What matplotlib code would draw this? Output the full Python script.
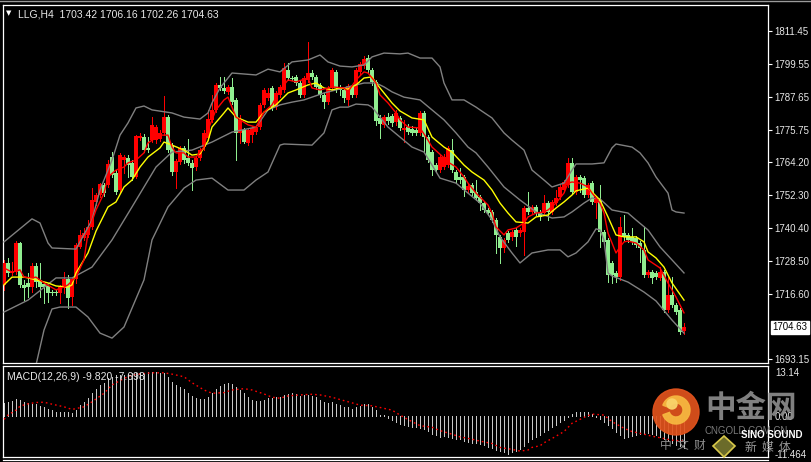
import matplotlib
matplotlib.use('Agg')
import matplotlib.pyplot as plt
from matplotlib.patches import Circle, Wedge, Polygon
import matplotlib.transforms as mtransforms

# ---------------- data ----------------
symbol = "LLG,H4"
last_ohlc = [1703.42, 1706.16, 1702.26, 1704.63]

opens = [1719.9, 1727.8, 1724.2, 1724.5, 1735.0, 1719.9, 1720.6, 1719.1, 1726.7, 1721.7,
         1720.2, 1719.5, 1717.1, 1717.0, 1717.0, 1718.8, 1722.0, 1715.5, 1722.0, 1733.6,
         1736.8, 1737.9, 1740.8, 1749.8, 1752.3, 1755.9, 1755.9, 1766.0, 1760.2, 1754.1,
         1764.9, 1765.7, 1763.9, 1758.8, 1772.9, 1773.2, 1769.3, 1772.1, 1772.1, 1772.5,
         1774.7, 1780.4, 1770.3, 1760.6, 1764.2, 1769.3, 1765.7, 1763.9, 1762.4, 1765.7,
         1769.6, 1772.9, 1779.4, 1783.0, 1792.0, 1790.9, 1789.5, 1791.3, 1786.6, 1774.7,
         1775.8, 1771.1, 1773.9, 1775.0, 1776.8, 1784.8, 1787.3, 1790.9, 1784.0, 1788.4,
         1790.2, 1797.4, 1794.5, 1794.9, 1792.7, 1788.4, 1793.8, 1796.3, 1794.9, 1792.0,
         1788.4, 1785.8, 1790.9, 1796.7, 1791.3, 1790.2, 1786.6, 1791.3, 1788.4, 1796.7,
         1798.8, 1801.7, 1797.4, 1793.1, 1780.1, 1777.6, 1780.4, 1780.8, 1778.6, 1780.1,
         1775.8, 1776.8, 1776.1, 1775.8, 1774.7, 1781.9, 1773.2, 1767.8, 1763.1, 1761.3,
         1762.4, 1763.1, 1768.5, 1760.6, 1758.8, 1758.8, 1754.1, 1755.9, 1753.4, 1751.6,
         1749.4, 1746.9, 1746.2, 1743.3, 1737.2, 1733.2, 1738.6, 1737.2, 1739.7, 1738.6,
         1739.0, 1747.6, 1746.2, 1748.0, 1746.2, 1745.8, 1749.4, 1746.2, 1749.4, 1751.6,
         1754.1, 1755.9, 1763.9, 1753.4, 1758.8, 1758.4, 1752.3, 1756.6, 1749.4, 1750.5,
         1739.0, 1736.1, 1727.8, 1724.2, 1722.7, 1738.6, 1737.9, 1737.2, 1736.8, 1735.0,
         1732.5, 1723.5, 1724.5, 1724.2, 1722.4, 1724.5, 1710.8, 1716.3, 1712.6, 1710.8,
         1703.42]

highs = [1728.9, 1729.6, 1728.2, 1735.7, 1735.4, 1721.7, 1724.2, 1727.8, 1727.8, 1727.8,
         1720.6, 1719.9, 1718.1, 1718.1, 1719.9, 1724.5, 1723.5, 1722.4, 1735.0, 1739.7,
         1740.4, 1743.3, 1754.8, 1753.0, 1756.6, 1756.6, 1764.9, 1767.8, 1761.3, 1767.5,
         1766.7, 1766.7, 1764.9, 1773.9, 1774.7, 1774.3, 1773.2, 1780.4, 1777.6, 1775.8,
         1788.0, 1781.2, 1771.1, 1765.3, 1770.0, 1770.0, 1772.5, 1764.9, 1766.4, 1769.3,
         1775.8, 1783.0, 1788.4, 1792.7, 1794.9, 1794.9, 1792.0, 1794.5, 1787.3, 1781.2,
         1776.5, 1776.5, 1777.2, 1777.6, 1785.5, 1790.9, 1790.9, 1791.6, 1789.8, 1792.0,
         1799.9, 1799.9, 1795.2, 1795.6, 1793.4, 1795.2, 1807.5, 1797.4, 1795.6, 1792.7,
         1789.1, 1791.6, 1798.1, 1797.4, 1792.0, 1790.9, 1792.3, 1792.0, 1798.1, 1800.3,
         1802.4, 1802.8, 1798.1, 1793.8, 1781.2, 1781.2, 1781.9, 1781.5, 1783.0, 1780.8,
         1779.4, 1777.9, 1777.2, 1776.5, 1782.6, 1782.6, 1773.9, 1768.5, 1763.9, 1766.7,
         1767.1, 1770.0, 1772.5, 1761.3, 1762.1, 1759.5, 1756.3, 1756.6, 1757.7, 1752.3,
         1750.1, 1747.6, 1746.9, 1744.0, 1737.9, 1736.8, 1739.3, 1739.7, 1740.4, 1740.4,
         1748.3, 1753.4, 1748.7, 1748.7, 1746.9, 1752.3, 1750.1, 1750.5, 1754.1, 1755.9,
         1757.7, 1765.7, 1765.7, 1759.5, 1759.5, 1759.2, 1756.6, 1757.4, 1752.0, 1755.9,
         1739.7, 1736.8, 1728.5, 1724.9, 1744.4, 1745.1, 1738.6, 1740.4, 1737.5, 1735.7,
         1740.8, 1725.3, 1725.3, 1724.9, 1726.3, 1725.3, 1722.7, 1722.7, 1713.4, 1711.6,
         1706.16]

lows = [1718.1, 1723.1, 1723.5, 1723.8, 1719.1, 1714.4, 1715.5, 1717.3, 1719.1, 1715.5,
        1713.4, 1713.7, 1716.3, 1716.3, 1713.4, 1717.0, 1711.6, 1712.6, 1720.6, 1733.2,
        1736.1, 1737.2, 1740.1, 1748.7, 1751.6, 1752.0, 1755.2, 1758.8, 1752.7, 1753.4,
        1760.2, 1758.8, 1757.7, 1758.4, 1772.1, 1767.8, 1767.8, 1771.4, 1771.1, 1771.8,
        1773.9, 1767.8, 1759.5, 1754.8, 1763.5, 1763.9, 1763.1, 1754.1, 1761.3, 1764.9,
        1768.5, 1772.1, 1778.6, 1782.2, 1790.2, 1789.1, 1788.7, 1785.1, 1764.9, 1771.1,
        1771.1, 1770.3, 1771.4, 1774.3, 1776.1, 1784.0, 1786.6, 1783.0, 1783.3, 1787.6,
        1789.5, 1793.8, 1793.8, 1792.0, 1787.6, 1787.6, 1793.1, 1794.1, 1790.5, 1787.6,
        1783.7, 1785.1, 1790.2, 1789.5, 1788.4, 1785.8, 1784.8, 1787.6, 1787.6, 1795.9,
        1798.1, 1796.7, 1792.0, 1777.6, 1772.9, 1776.8, 1777.9, 1777.2, 1777.6, 1775.8,
        1771.4, 1774.3, 1773.9, 1773.9, 1773.9, 1767.8, 1764.2, 1759.5, 1760.6, 1760.6,
        1761.7, 1762.4, 1760.6, 1757.0, 1756.6, 1752.0, 1753.4, 1752.3, 1750.5, 1746.9,
        1746.2, 1745.1, 1742.6, 1731.4, 1727.8, 1731.8, 1735.4, 1736.1, 1733.9, 1737.5,
        1730.7, 1745.5, 1745.5, 1745.1, 1743.3, 1745.1, 1743.3, 1745.5, 1748.7, 1750.9,
        1753.4, 1755.2, 1752.7, 1752.7, 1753.4, 1751.6, 1751.6, 1749.1, 1744.0, 1733.6,
        1734.3, 1720.9, 1720.6, 1720.9, 1721.7, 1736.1, 1735.4, 1734.6, 1733.6, 1728.2,
        1722.7, 1722.7, 1720.6, 1722.0, 1721.7, 1710.1, 1710.1, 1711.9, 1709.4, 1702.2,
        1702.26]

closes = [1727.8, 1724.2, 1724.9, 1735.0, 1719.9, 1718.8, 1719.1, 1726.7, 1720.9, 1719.1,
          1719.1, 1717.0, 1717.0, 1716.8, 1719.1, 1722.0, 1715.2, 1722.0, 1734.3, 1737.9,
          1738.6, 1740.8, 1750.5, 1752.3, 1756.3, 1753.0, 1763.5, 1759.5, 1753.4, 1766.7,
          1766.0, 1763.1, 1758.8, 1773.6, 1773.6, 1768.5, 1768.5, 1777.6, 1776.8, 1774.7,
          1780.4, 1768.5, 1760.6, 1764.6, 1769.3, 1764.9, 1763.9, 1762.1, 1765.7, 1768.5,
          1774.7, 1779.7, 1783.0, 1792.0, 1790.9, 1789.8, 1791.3, 1785.8, 1774.7, 1779.4,
          1771.4, 1775.8, 1776.5, 1776.8, 1784.8, 1790.2, 1789.1, 1784.0, 1789.1, 1791.3,
          1798.1, 1794.5, 1794.3, 1792.7, 1788.4, 1794.5, 1796.3, 1794.9, 1791.3, 1788.4,
          1785.8, 1790.9, 1797.4, 1790.9, 1790.2, 1787.3, 1791.6, 1788.4, 1797.4, 1799.5,
          1801.4, 1797.4, 1793.1, 1779.0, 1777.9, 1780.4, 1779.0, 1778.3, 1781.9, 1776.5,
          1776.5, 1775.0, 1774.7, 1774.7, 1781.9, 1773.2, 1764.9, 1761.3, 1761.3, 1766.0,
          1766.0, 1769.3, 1761.3, 1757.7, 1757.7, 1754.1, 1755.6, 1753.0, 1751.2, 1749.4,
          1746.9, 1745.8, 1743.3, 1737.9, 1733.2, 1736.1, 1736.1, 1739.0, 1737.2, 1739.7,
          1747.6, 1746.2, 1748.0, 1745.8, 1744.4, 1749.4, 1746.2, 1749.8, 1751.2, 1755.2,
          1757.0, 1763.9, 1753.4, 1758.8, 1757.7, 1752.3, 1755.9, 1749.8, 1751.2, 1739.0,
          1735.4, 1723.5, 1723.5, 1722.7, 1740.8, 1737.2, 1736.1, 1735.4, 1734.3, 1733.2,
          1723.5, 1724.5, 1722.4, 1722.7, 1724.5, 1710.8, 1716.3, 1712.6, 1710.1, 1702.9,
          1704.63]

# fast moving average (red): bar index -> value
ma_fast_idx = [0, 2, 4, 5, 7, 8, 10, 13, 15, 16, 18, 20, 21, 23, 25, 26, 28, 30, 31, 33,
               35, 36, 39, 41, 42, 43, 45, 46, 48, 50, 51, 53, 55, 56, 58, 61, 63, 65, 67, 69,
               71, 73, 76, 77, 79, 81, 82, 85, 86, 88, 90, 91, 93, 94, 96, 98, 99, 101, 104, 106,
               107, 110, 111, 113, 115, 116, 118, 121, 122, 123, 125, 126, 128, 130, 131, 133, 135, 136, 138, 140,
               141, 142, 144, 146, 147, 149, 150, 151, 153, 154, 155, 156, 158, 160, 161, 164, 166, 168, 170]
ma_fast = [1726.0, 1724.5, 1725.3, 1722.7, 1722.4, 1722.7, 1720.6, 1718.1, 1719.1, 1719.9,
           1722.7, 1728.9, 1738.6, 1746.9, 1753.0, 1758.8, 1761.3, 1762.4, 1763.9, 1764.9,
           1767.5, 1771.1, 1773.9, 1773.9, 1769.6, 1767.5, 1767.5, 1766.0, 1766.0, 1769.6,
           1775.8, 1783.0, 1786.6, 1787.6, 1780.4, 1777.6, 1776.8, 1782.2, 1784.8, 1790.2,
           1793.8, 1793.1, 1794.5, 1790.9, 1790.2, 1790.9, 1791.3, 1790.9, 1789.5, 1793.8,
           1796.7, 1796.3, 1792.7, 1788.4, 1785.5, 1781.9, 1779.4, 1776.8, 1776.5, 1772.1,
           1769.6, 1765.7, 1764.2, 1762.4, 1758.8, 1756.6, 1753.0, 1748.7, 1745.8, 1740.8,
           1737.9, 1739.7, 1740.4, 1742.2, 1744.4, 1745.8, 1746.2, 1746.9, 1749.4, 1753.0,
           1756.6, 1757.0, 1756.6, 1755.2, 1753.0, 1749.4, 1745.8, 1738.6, 1731.4, 1733.6,
           1735.4, 1735.7, 1735.0, 1732.5, 1728.9, 1726.0, 1720.6, 1715.5, 1709.8]

# slow moving average (yellow)
ma_slow_idx = [0, 2, 5, 6, 8, 11, 13, 16, 17, 18, 21, 23, 26, 28, 30, 32, 34, 36, 39, 40,
               42, 45, 47, 49, 51, 52, 55, 56, 58, 61, 63, 65, 68, 71, 73, 76, 78, 80, 82, 84,
               86, 88, 90, 92, 93, 95, 97, 99, 102, 105, 107, 110, 112, 115, 117, 120, 122, 124, 126, 128,
               131, 133, 136, 138, 140, 142, 143, 146, 147, 149, 151, 153, 155, 158, 160, 161, 163, 165, 167, 170]
ma_slow = [1719.9, 1722.7, 1722.7, 1722.4, 1721.7, 1720.6, 1719.5, 1719.1, 1719.9, 1724.2,
           1731.4, 1739.3, 1748.0, 1749.8, 1755.2, 1757.7, 1762.4, 1766.0, 1769.3, 1771.4,
           1770.3, 1768.5, 1766.7, 1767.1, 1771.8, 1776.8, 1781.9, 1783.7, 1780.4, 1778.6,
           1778.6, 1782.2, 1784.8, 1789.1, 1790.2, 1792.0, 1792.7, 1790.9, 1790.2, 1790.9,
           1790.5, 1792.0, 1794.5, 1794.9, 1792.7, 1789.1, 1785.5, 1782.6, 1780.1, 1779.4,
           1773.2, 1769.6, 1767.8, 1763.1, 1760.6, 1757.7, 1754.1, 1749.4, 1745.8, 1742.6,
           1742.2, 1744.4, 1745.1, 1747.6, 1749.8, 1752.3, 1753.8, 1754.8, 1753.4, 1750.5,
           1744.4, 1737.9, 1737.2, 1737.2, 1735.4, 1731.8, 1729.6, 1726.3, 1720.6, 1714.4]

# Bollinger bands (gray)
bb_up_idx = [0, 7, 9, 11, 12, 18, 22, 24, 27, 29, 31, 33, 35, 37, 42, 45, 49, 51, 52, 54,
             57, 63, 66, 69, 72, 76, 79, 81, 84, 87, 90, 92, 95, 99, 101, 104, 107, 109, 110, 112,
             115, 118, 119, 122, 125, 127, 130, 132, 135, 137, 140, 142, 143, 147, 150, 152, 153, 157, 159, 161,
             163, 166, 167, 168, 170]
bb_up = [1735.4, 1743.7, 1742.2, 1735.0, 1733.2, 1732.8, 1743.3, 1754.1, 1764.9, 1773.9,
         1778.3, 1783.7, 1784.4, 1783.0, 1781.9, 1780.4, 1779.7, 1781.9, 1785.5, 1790.9,
         1796.3, 1795.6, 1797.7, 1796.7, 1800.3, 1801.0, 1802.8, 1800.3, 1798.8, 1798.5,
         1799.2, 1802.1, 1803.5, 1803.2, 1803.5, 1801.7, 1801.7, 1798.5, 1792.7, 1786.6,
         1786.6, 1784.0, 1783.0, 1780.1, 1774.7, 1772.1, 1768.5, 1761.3, 1757.7, 1755.2,
         1756.6, 1761.3, 1763.5, 1763.5, 1763.9, 1769.3, 1770.7, 1769.6, 1767.5, 1763.9,
         1758.8, 1753.0, 1746.9, 1746.2, 1745.8]

bb_mid_idx = [0, 6, 13, 17, 22, 27, 32, 38, 42, 47, 52, 57, 63, 66, 69, 72, 75, 77, 80, 83,
              86, 90, 93, 95, 97, 100, 104, 107, 110, 113, 116, 118, 121, 125, 129, 133, 137, 140, 142, 145,
              147, 149, 152, 156, 158, 161, 164, 167, 170]
bb_mid = [1710.1, 1714.4, 1722.4, 1722.4, 1726.3, 1736.1, 1748.0, 1762.4, 1767.8, 1768.5,
          1771.4, 1775.0, 1776.8, 1783.0, 1784.8, 1785.8, 1786.6, 1787.6, 1789.1, 1790.2,
          1791.3, 1792.7, 1792.7, 1791.3, 1789.5, 1787.6, 1786.6, 1783.0, 1779.4, 1774.7,
          1769.6, 1767.5, 1762.4, 1755.2, 1750.5, 1746.2, 1744.0, 1744.4, 1746.2, 1749.4,
          1751.2, 1750.9, 1746.9, 1745.8, 1743.3, 1739.7, 1733.6, 1728.9, 1724.2]

bb_low_idx = [0, 7, 8, 10, 12, 14, 18, 21, 24, 27, 30, 35, 37, 41, 45, 48, 52, 56, 60, 63,
              66, 69, 70, 77, 80, 82, 84, 86, 88, 91, 92, 94, 96, 99, 102, 105, 107, 109, 113, 116,
              119, 122, 124, 127, 129, 132, 136, 139, 141, 143, 146, 148, 149, 150, 151, 152, 156, 160, 163, 167,
              170]
bb_low = [1684.9, 1686.3, 1691.0, 1703.6, 1711.2, 1711.9, 1711.9, 1708.3, 1702.5, 1700.7,
          1704.7, 1721.7, 1736.1, 1748.0, 1754.8, 1757.7, 1758.4, 1754.1, 1754.1, 1757.7,
          1760.6, 1770.3, 1770.7, 1770.3, 1774.7, 1783.0, 1784.0, 1784.0, 1785.1, 1784.8,
          1784.0, 1780.4, 1776.8, 1773.2, 1769.6, 1767.8, 1763.1, 1758.4, 1756.6, 1753.0,
          1749.4, 1743.3, 1737.2, 1731.4, 1727.8, 1731.4, 1732.5, 1732.5, 1730.0, 1731.4,
          1735.4, 1740.1, 1739.7, 1736.1, 1724.2, 1723.1, 1720.9, 1717.3, 1714.1, 1707.2,
          1702.5]

# MACD(12,26,9) histogram, one value per bar
macd_main = [3.9, 4.1, 4.5, 5.1, 4.7, 4.2, 3.9, 3.7, 3.4, 2.9,
             2.6, 2.0, 1.7, 1.2, 1.1, 1.1, 1.0, 0.9, 1.7, 3.2,
             4.2, 5.3, 7.0, 8.0, 9.3, 10.0, 11.3, 11.8, 12.3, 12.3,
             12.3, 12.6, 12.8, 12.8, 13.0, 13.0, 13.1, 13.1, 13.14, 13.0,
             12.8, 11.8, 10.3, 9.3, 8.6, 8.0, 7.0, 6.0, 5.3, 5.1,
             5.1, 5.8, 7.0, 8.0, 9.0, 9.5, 9.8, 9.6, 8.8, 7.8,
             6.8, 5.8, 4.7, 4.4, 4.4, 4.9, 5.3, 5.5, 5.6, 5.8,
             6.3, 6.6, 6.8, 6.6, 6.1, 6.3, 6.3, 6.0, 5.6, 4.9,
             4.2, 3.9, 4.1, 3.5, 3.2, 2.7, 2.5, 1.9, 2.5, 3.0,
             3.4, 3.5, 2.7, 1.7, 0.2, 0.1, -0.8, -1.3, -1.8, -2.5,
             -2.8, -3.0, -3.3, -3.5, -3.8, -4.1, -4.5, -5.4, -5.9, -6.4,
             -6.2, -6.4, -6.6, -6.9, -7.2, -7.6, -7.9, -8.2, -8.4, -8.6,
             -9.0, -9.4, -9.9, -10.4, -10.7, -11.1, -11.464, -10.9, -10.6, -10.2,
             -9.2, -7.9, -7.2, -6.4, -5.9, -5.0, -4.3, -3.5, -2.8, -2.0,
             -1.2, -0.4, 0.6, 1.0, 1.2, 1.2, 1.0, 0.5, -0.3, -1.1,
             -1.8, -2.8, -3.8, -4.8, -5.9, -6.6, -6.4, -6.2, -5.9, -5.6,
             -5.4, -5.2, -5.4, -5.9, -6.4, -7.2, -7.8, -8.3, -8.8, -9.3,
             -9.82]

# MACD signal line (red dotted)
macd_sig_idx = [0, 1, 3, 4, 6, 8, 10, 12, 15, 17, 20, 22, 25, 27, 30, 32, 35, 37, 40, 42,
                45, 47, 50, 52, 55, 57, 60, 62, 65, 67, 69, 71, 74, 77, 79, 82, 84, 87, 89, 92,
                94, 97, 99, 102, 104, 107, 109, 112, 114, 117, 119, 122, 124, 127, 129, 131, 132, 134, 135, 137,
                140, 142, 145, 147, 150, 152, 155, 157, 160, 162, 165, 167, 170]
macd_sig = [-1.1, 0.2, 1.7, 2.9, 3.6, 4.0, 4.1, 3.5, 2.7, 1.9,
            2.7, 4.2, 6.8, 9.3, 11.3, 12.3, 12.8, 13.0, 13.0, 12.6,
            11.8, 10.0, 7.8, 6.8, 7.0, 7.8, 8.2, 7.8, 6.6, 5.6,
            5.3, 6.0, 6.3, 6.5, 6.3, 5.6, 4.9, 3.9, 3.2, 3.0,
            2.5, 1.7, 0.2, -1.8, -3.0, -3.5, -4.5, -5.6, -6.4, -7.1,
            -7.7, -8.4, -9.6, -10.2, -10.7, -10.4, -9.6, -9.1, -8.2, -6.9,
            -4.8, -2.3, -0.5, 0.5, 0.2, -1.8, -3.8, -4.8, -5.6, -6.2,
            -6.9, -7.4, -7.698]

price_ticks = [1811.45, 1799.55, 1787.65, 1775.75, 1764.20, 1752.30, 1740.40, 1728.50, 1716.60, 1693.15]
macd_ticks = [13.14, 0.00, -11.464]
macd_tick_labels = ["13.14", "0.00", "-11.464"]

# ---------------- figure ----------------
W, H = 811, 462
fig = plt.figure(figsize=(W / 100, H / 100), dpi=100, facecolor='black')


def frac(x0, y0, x1, y1):
    return [x0 / W, 1 - y1 / H, (x1 - x0) / W, (y1 - y0) / H]


UP = '#FF0000'
DOWN = '#90EE90'
TXT = '#E8E8E8'
FONT = ['Liberation Sans', 'DejaVu Sans']
CJK = ['Noto Sans CJK SC', 'DejaVu Sans']

ax = fig.add_axes(frac(3, 5, 768, 363))
ax.set_facecolor('black')
ax.set_xlim(-0.25, 191)
ax.set_ylim(1691.72, 1820.83)

n = len(closes)
idx = list(range(n))
cols = [UP if c >= o else DOWN for o, c in zip(opens, closes)]
bottoms = [min(o, c) for o, c in zip(opens, closes)]
heights = [max(abs(c - o), 0.38) for o, c in zip(opens, closes)]

ax.vlines(idx, lows, highs, colors=cols, linewidth=0.72, zorder=2, antialiased=False)
ax.bar(idx, heights, bottom=bottoms, width=0.78, color=cols, linewidth=0, zorder=3,
       antialiased=False)

GRAY = '#808080'
ax.plot(bb_up_idx, bb_up, color=GRAY, lw=1.0, zorder=4)
ax.plot(bb_mid_idx, bb_mid, color=GRAY, lw=1.0, zorder=4)
ax.plot(bb_low_idx, bb_low, color=GRAY, lw=1.0, zorder=4)
ax.plot(ma_slow_idx, ma_slow, color='#FFFF00', lw=1.0, zorder=5)
ax.plot(ma_fast_idx, ma_fast, color='#FF0000', lw=1.0, zorder=5)

for s in ax.spines.values():
    s.set_color('white')
    s.set_linewidth(0.9)
ax.set_xticks([])
ax.yaxis.tick_right()
ax.set_yticks(price_ticks)
ax.set_yticklabels([f"{t:.2f}" for t in price_ticks])
ax.tick_params(axis='y', colors='white', length=3, width=0.8, pad=1.5, labelsize=7)
for lab in ax.get_yticklabels():
    lab.set_color(TXT)
    lab.set_family(FONT)

# current price box
ax.annotate(f"{last_ohlc[3]:.2f}", xy=(1.0, last_ohlc[3]),
            xycoords=mtransforms.blended_transform_factory(ax.transAxes, ax.transData),
            xytext=(3, 0), textcoords='offset points', va='center', ha='left',
            fontsize=7, family=FONT, color='black',
            bbox=dict(boxstyle='square,pad=0.15', fc='white', ec='white'), annotation_clip=False)

ax.text(0.004, 0.985, "\u25BC", transform=ax.transAxes, color='white', fontsize=5,
        va='top', ha='left', family=['DejaVu Sans'])
ax.text(0.02, 0.988, f"{symbol}  " + " ".join(f"{v:.2f}" for v in last_ohlc),
        transform=ax.transAxes, color=TXT, fontsize=7.5, va='top', ha='left', family=FONT)

# ---------------- MACD panel ----------------
ax2 = fig.add_axes(frac(3, 366, 768, 457))
ax2.set_facecolor('black')
ax2.set_xlim(-0.25, 191)
ax2.set_ylim(-12.5, 15.06)
ax2.vlines(idx, 0, macd_main, colors='#C8C8C8', linewidth=0.72, zorder=2, antialiased=False)
ax2.plot(macd_sig_idx, macd_sig, color='#FF0000', lw=1.0, ls=(0, (1.2, 2.2)), zorder=3)
for s in ax2.spines.values():
    s.set_color('white')
    s.set_linewidth(0.9)
ax2.set_xticks([])
ax2.yaxis.tick_right()
ax2.set_yticks(macd_ticks)
ax2.set_yticklabels(macd_tick_labels)
ax2.tick_params(axis='y', colors='white', length=0, pad=5, labelsize=7)
for lab in ax2.get_yticklabels():
    lab.set_color(TXT)
    lab.set_family(FONT)
ax2.text(0.005, 0.93, f"MACD(12,26,9) {macd_main[-1]:.3f} {macd_sig[-1]:.3f}",
         transform=ax2.transAxes, color=TXT, fontsize=7.5, va='top', ha='left', family=FONT)

# ---------------- frame lines & watermark ----------------
ov = fig.add_axes([0, 0, 1, 1], facecolor='none')
ov.set_xlim(0, W)
ov.set_ylim(H, 0)
ov.axis('off')
ov.plot([0, W], [1, 1], color='#9A9A9A', lw=1.0)
ov.plot([3, 768], [460, 460], color='white', lw=0.9)

# watermark logo
ov.add_patch(Circle((676, 412), 23, color='#E2531D', alpha=0.92, zorder=10))
ov.add_patch(Wedge((676, 410), 14, 200, 520, width=7, color='#F6B640', alpha=0.95, zorder=11))
ov.add_patch(Circle((672, 404), 5, color='#F9D36A', alpha=0.95, zorder=11))
ov.text(751, 408, "中金网", color='#8C8C8C', fontsize=22, fontweight='bold', ha='center', va='center',
        family=CJK, alpha=0.92, zorder=12)
ov.text(746, 431, "CNGOLD.COM.CN", color='#7A7A7A', fontsize=7, ha='center', va='center',
        family=FONT, zorder=10)
ov.text(772, 435, "SINO SOUND", color='white', fontsize=7, fontweight='bold', ha='center', va='center',
        family=FONT, zorder=12)
ov.text(683, 445, "中  文  财", color='#8C8C8C', fontsize=8.5, ha='center', va='center',
        family=CJK, zorder=10)
ov.add_patch(Polygon([(724, 436), (735, 446), (724, 457), (713, 446)], closed=True,
                     fc='#6B6B2A', ec='#D8C84A', lw=1.2, zorder=10))
ov.text(768, 447, "新  媒  体", color='#9A9A9A', fontsize=8.5, ha='center', va='center',
        family=CJK, zorder=11)

fig.savefig('out.png', dpi=100, facecolor='black')
